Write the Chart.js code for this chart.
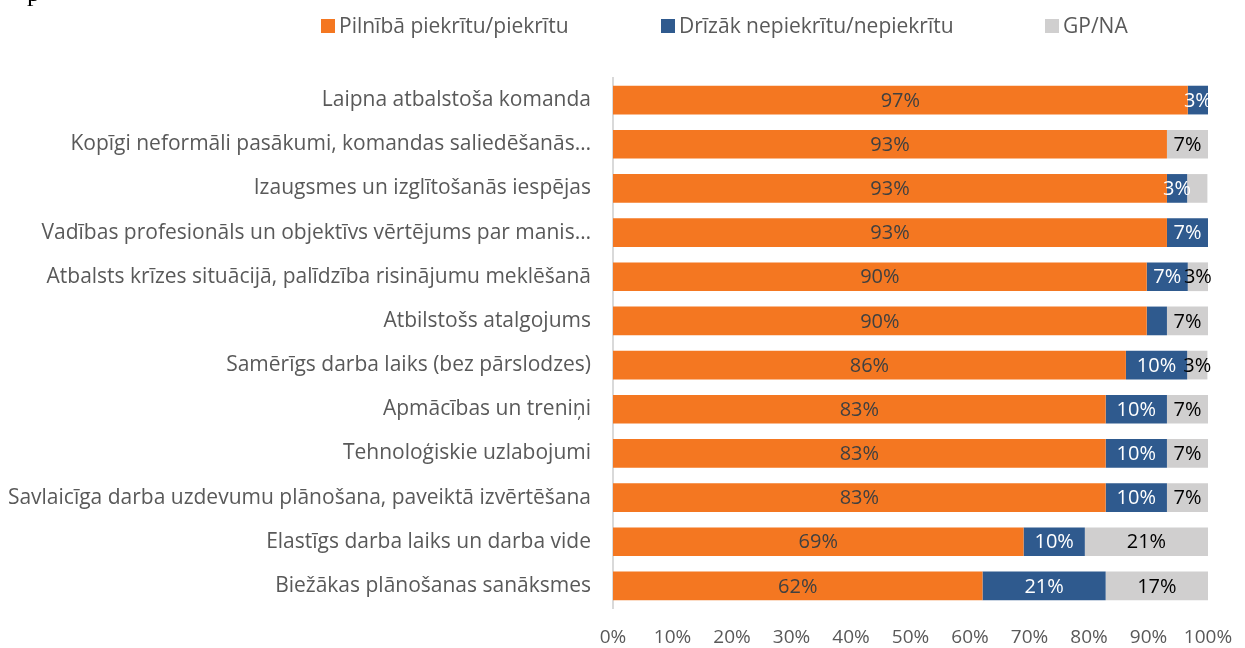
<!DOCTYPE html>
<html>
<head>
<meta charset="utf-8">
<script src="https://cdn.jsdelivr.net/npm/chart.js@4/dist/chart.umd.min.js"></script>
<style>
    html, body { margin: 0; padding: 0; background: #fff; }
    #wrap { position: relative; width: 1245px; height: 648px; }
    #stray { position: absolute; left: 27px; top: -22px; font: 26px 'Liberation Serif', serif; color: #000; }
</style>
</head>
<body>
<div id="wrap">
    <div id="stray">p</div>
    <canvas id="chartFaktori" width="1245" height="648"></canvas>
</div>
<script>
// faktori (kategorijas)
var categories = [
    'Laipna atbalstoša komanda',
    'Kopīgi neformāli pasākumi, komandas saliedēšanās…',
    'Izaugsmes un izglītošanās iespējas',
    'Vadības profesionāls un objektīvs vērtējums par manis…',
    'Atbalsts krīzes situācijā, palīdzība risinājumu meklēšanā',
    'Atbilstošs atalgojums',
    'Samērīgs darba laiks (bez pārslodzes)',
    'Apmācības un treniņi',
    'Tehnoloģiskie uzlabojumi',
    'Savlaicīga darba uzdevumu plānošana, paveiktā izvērtēšana',
    'Elastīgs darba laiks un darba vide',
    'Biežākas plānošanas sanāksmes'
];

// procenti
var agree    = [96.6, 93.1, 93.1, 93.1, 89.7, 89.7, 86.2, 82.8, 82.8, 82.8, 69.0, 62.1];
var disagree = [3.4, 0, 3.4, 6.9, 6.9, 3.4, 10.3, 10.3, 10.3, 10.3, 10.3, 20.7];
var noAnswer = [0, 6.9, 3.4, 0, 3.4, 6.9, 3.4, 6.9, 6.9, 6.9, 20.7, 17.2];

// etiķetes, kuras netiek rādītas (sērija, rinda)
var hiddenLabels = [[2, 2], [1, 5]];

var xTicks = [0, 10, 20, 30, 40, 50, 60, 70, 80, 90, 100];

var labelColors = ['#404040', '#ffffff', '#000000'];

// leģendas elementu sākuma x
var legendX = [321, 661, 1045];

var fontFamily = '"Open Sans", sans-serif';

// vērtību etiķetes uz stabiņiem
var barLabels = {
    id: 'barLabels',
    afterDatasetsDraw: function (chart) {
        var ctx = chart.ctx;
        ctx.save();
        ctx.font = '20px ' + fontFamily;
        ctx.textAlign = 'center';
        ctx.textBaseline = 'middle';
        chart.data.datasets.forEach(function (ds, di) {
            var meta = chart.getDatasetMeta(di);
            meta.data.forEach(function (bar, i) {
                var v = ds.data[i];
                if (!v) return;
                var skip = hiddenLabels.some(function (h) { return h[0] === di && h[1] === i; });
                if (skip) return;
                var p = bar.getCenterPoint();
                ctx.fillStyle = labelColors[di];
                ctx.fillText(Math.round(v) + '%', p.x, p.y + 1);
            });
        });
        ctx.restore();
    }
};

// leģenda augšā
var topLegend = {
    id: 'topLegend',
    afterDraw: function (chart) {
        var ctx = chart.ctx;
        ctx.save();
        ctx.font = '21px ' + fontFamily;
        ctx.textAlign = 'left';
        ctx.textBaseline = 'middle';
        chart.data.datasets.forEach(function (ds, di) {
            var x = legendX[di];
            ctx.fillStyle = ds.backgroundColor;
            ctx.fillRect(x, 19, 14, 14);
            ctx.fillStyle = '#595959';
            ctx.fillText(ds.label, x + 18, 27);
        });
        ctx.restore();
    }
};

var ctx = document.getElementById('chartFaktori').getContext('2d');
var myChart = new Chart(ctx, {
    type: 'bar',
    data: {
        labels: categories,
        datasets: [
            {
                label: 'Pilnībā piekrītu/piekrītu',
                data: agree,
                backgroundColor: '#F47721',
                borderWidth: 0
            },
            {
                label: 'Drīzāk nepiekrītu/nepiekrītu',
                data: disagree,
                backgroundColor: '#2F5A8E',
                borderWidth: 0
            },
            {
                label: 'GP/NA',
                data: noAnswer,
                backgroundColor: '#D0CFCF',
                borderWidth: 0
            }
        ]
    },
    options: {
        indexAxis: 'y',
        responsive: false,
        animation: false,
        devicePixelRatio: 1,
        layout: {
            padding: { left: 0, right: 0, top: 78, bottom: 0 }
        },
        datasets: {
            bar: { barPercentage: 0.65, categoryPercentage: 1 }
        },
        scales: {
            x: {
                stacked: true,
                min: 0,
                max: 100,
                afterBuildTicks: function (axis) {
                    axis.ticks = xTicks.map(function (v) { return { value: v }; });
                },
                afterFit: function (axis) {
                    axis.height = 40;
                    axis.paddingRight = 37;
                },
                grid: { display: false, drawTicks: false },
                border: { display: false },
                ticks: {
                    padding: 18,
                    color: '#595959',
                    font: { family: fontFamily, size: 19 },
                    maxRotation: 0,
                    callback: function (v) { return v + '%'; }
                }
            },
            y: {
                stacked: true,
                afterFit: function (axis) { axis.width = 613; },
                grid: { display: false, drawTicks: false },
                border: { display: true, color: '#D9D9D9', width: 2 },
                ticks: {
                    padding: 22,
                    color: '#595959',
                    font: { family: fontFamily, size: 21 }
                }
            }
        },
        plugins: {
            tooltip: { enabled: false },
            legend: { display: false }
        }
    },
    plugins: [barLabels, topLegend]
});
</script>
</body>
</html>
